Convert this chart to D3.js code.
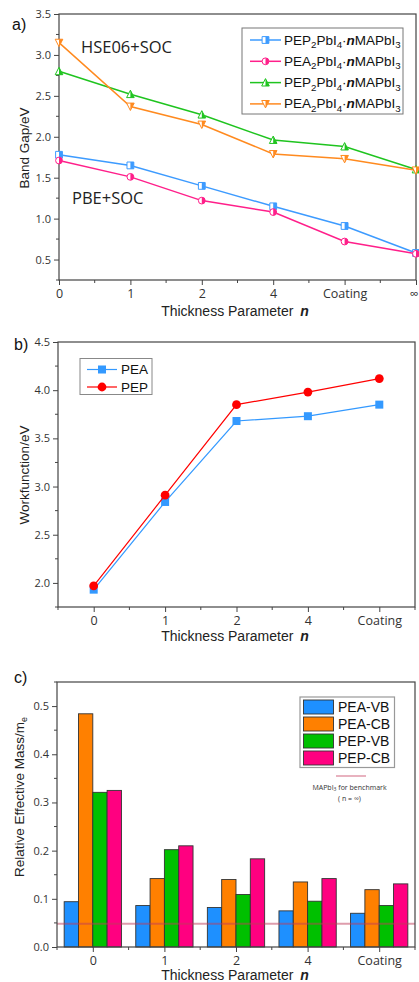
<!DOCTYPE html>
<html>
<head>
<meta charset="utf-8">
<script src="https://cdn.jsdelivr.net/npm/d3@7"></script>
<style>
  html, body { margin: 0; padding: 0; background: #fff; }
  svg { display: block; }
  .tick-label { font-family: "Open Sans", "Liberation Sans", Arial, sans-serif; font-size: 11px; fill: #333; }
  .axis-title { font-family: "Liberation Sans", Arial, sans-serif; font-size: 13.5px; fill: #222; }
  .legend-text { font-family: "Liberation Sans", Arial, sans-serif; fill: #111; }
  .panel-tag { font-family: "Liberation Sans", Arial, sans-serif; font-size: 16px; fill: #111; }
</style>
</head>
<body>
<svg id="fig" width="419" height="982"></svg>
<script>
// ---------- data ----------
// a) band gaps (eV) vs thickness parameter n
const bandCategories = ["0", "1", "2", "4", "Coating", "\u221E"];
const pepPBE = [1.78, 1.65, 1.40, 1.15, 0.91, 0.58];
const peaPBE = [1.71, 1.51, 1.22, 1.08, 0.72, 0.57];
const pepHSE = [2.80, 2.52, 2.27, 1.96, 1.88, 1.60];
const peaHSE = [3.15, 2.37, 2.15, 1.79, 1.73, 1.59];
const bandTicks = [0.5, 1.0, 1.5, 2.0, 2.5, 3.0, 3.5];

// b) work function (eV)
const wfCategories = ["0", "1", "2", "4", "Coating"];
const wfPEA = [1.93, 2.84, 3.68, 3.73, 3.85];
const wfPEP = [1.97, 2.91, 3.85, 3.98, 4.12];
const wfTicks = [2.0, 2.5, 3.0, 3.5, 4.0, 4.5];

// c) relative effective mass (m_e)
const massCategories = ["0", "1", "2", "4", "Coating"];
const massSeries = ["PEA-VB", "PEA-CB", "PEP-VB", "PEP-CB"];
const peaVB = [0.094, 0.086, 0.082, 0.075, 0.070];
const peaCB = [0.484, 0.142, 0.140, 0.135, 0.119];
const pepVB = [0.321, 0.202, 0.109, 0.095, 0.086];
const pepCB = [0.325, 0.210, 0.183, 0.142, 0.131];
const benchmarkMass = 0.048;
const massTicks = [0.0, 0.1, 0.2, 0.3, 0.4, 0.5];

// ---------- helpers ----------
const svg = d3.select("#fig");
const AX = "#444";
const W = 419;

function frame(g, x0, x1, y0, y1) {
  g.append("rect").attr("x", x0).attr("y", y0)
    .attr("width", x1 - x0).attr("height", y1 - y0)
    .attr("fill", "none").attr("stroke", AX).attr("stroke-width", 1.2);
}

function yAxis(g, y, x0, major, minorStep, fmt) {
  const ax = d3.axisLeft(y).tickValues(major).tickSize(5).tickPadding(3).tickFormat(fmt);
  const a = g.append("g").attr("transform", `translate(${x0},0)`).call(ax);
  a.select(".domain").remove();
  a.selectAll("line").attr("stroke", AX);
  a.selectAll("text").attr("class", "tick-label");
  const [lo, hi] = y.domain();
  const minors = d3.range(Math.ceil(lo / minorStep) * minorStep, hi + 1e-9, minorStep)
    .filter(v => !major.some(m => Math.abs(m - v) < 1e-9));
  g.append("g").selectAll("line").data(minors).join("line")
    .attr("x1", x0 - 3).attr("x2", x0).attr("y1", d => y(d)).attr("y2", d => y(d))
    .attr("stroke", AX);
}

function xAxis(g, x, y0, majors, labels, minors) {
  const ax = d3.axisBottom(x).tickValues(majors).tickSize(5).tickPadding(4)
    .tickFormat((d, i) => labels[i]);
  const a = g.append("g").attr("transform", `translate(0,${y0})`).call(ax);
  a.select(".domain").remove();
  a.selectAll("line").attr("stroke", AX);
  a.selectAll("text").attr("class", "tick-label").style("font-size", "12.5px");
  // keep a label that sits on the figure's right edge inside the canvas
  a.selectAll(".tick").each(function () {
    const t = d3.select(this).select("text");
    const bb = this.getBBox();
    const tx = +d3.select(this).attr("transform").match(/translate\(([-\d.]+)/)[1];
    const right = tx + bb.x + bb.width;
    if (right > W - 0.5) t.attr("dx", (W - 0.5 - right) + "px");
  });
  g.append("g").selectAll("line").data(minors).join("line")
    .attr("x1", d => x(d)).attr("x2", d => x(d)).attr("y1", y0).attr("y2", y0 + 3)
    .attr("stroke", AX);
}

function xTitle(g, cx, y) {
  const t = g.append("text").attr("class", "axis-title").attr("x", cx).attr("y", y)
    .attr("text-anchor", "middle").style("font-size", "14px");
  t.append("tspan").text("Thickness Parameter ");
  t.append("tspan").text("n").attr("font-weight", "bold").attr("font-style", "italic").attr("dx", 3);
}

function yTitle(g, x, cy, build) {
  const t = g.append("text").attr("class", "axis-title")
    .attr("transform", `translate(${x},${cy}) rotate(-90)`).attr("text-anchor", "middle");
  build(t);
}

// half-filled markers
function marker(g, shape, cx, cy, color) {
  const s = 3.4;
  const m = g.append("g").attr("transform", `translate(${cx},${cy})`);
  let full, half;
  if (shape === "square") {
    full = `M${-s},${-s}H${s}V${s}H${-s}Z`;
    half = `M0,${-s}H${s}V${s}H0Z`;
  } else if (shape === "circle") {
    full = `M${-s},0A${s},${s} 0 1,0 ${s},0A${s},${s} 0 1,0 ${-s},0Z`;
    half = `M0,${-s}A${s},${s} 0 0,1 0,${s}Z`;
  } else if (shape === "up") {
    full = `M0,${-s - 0.6}L${s + 0.4},${s}H${-s - 0.4}Z`;
    half = `M0,${-s - 0.6}L${s + 0.4},${s}H0Z`;
  } else {
    full = `M0,${s + 0.6}L${s + 0.4},${-s}H${-s - 0.4}Z`;
    half = `M0,${s + 0.6}L${s + 0.4},${-s}H0Z`;
  }
  m.append("path").attr("d", full).attr("fill", "#fff").attr("stroke", color).attr("stroke-width", 1);
  m.append("path").attr("d", half).attr("fill", color);
}

function subLabel(t, parts) {
  // parts: [text, kind] where kind is "n" (normal), "s" (subscript), "b" (bold italic)
  let shifted = false;
  parts.forEach(([txt, kind]) => {
    const sp = t.append("tspan").text(txt);
    if (kind === "s") {
      sp.attr("dy", shifted ? 0 : 3.5).style("font-size", "0.72em");
      shifted = true;
    } else {
      if (shifted) { sp.attr("dy", -3.5); shifted = false; }
      if (kind === "b") sp.attr("font-weight", "bold").attr("font-style", "italic");
    }
  });
}

// ---------- a) band gap ----------
{
  const g = svg.append("g");
  const L = 59, R = 416, T = 14, B = 280;
  const x = d3.scaleLinear().domain([0, 5]).range([L, R]);
  const y = d3.scaleLinear().domain([0.25, 3.5]).range([B, T]);
  const idx = bandCategories.map((_, i) => i);

  yAxis(g, y, L, bandTicks, 0.25, d3.format(".1f"));
  xAxis(g, x, B, idx, bandCategories, d3.range(0.5, 5, 1));
  frame(g, L, R, T, B);

  const series = [
    { v: pepPBE, c: "#3d9bff", m: "square", lbl: ["PEP", "2"] },
    { v: peaPBE, c: "#ff1f8a", m: "circle", lbl: ["PEA", "2"] },
    { v: pepHSE, c: "#1fc41f", m: "up", lbl: ["PEP", "2"] },
    { v: peaHSE, c: "#ff8a1f", m: "down", lbl: ["PEA", "2"] }
  ];
  const line = d3.line().x((d, i) => x(i)).y(d => y(d));
  series.forEach(s => {
    g.append("path").datum(s.v).attr("d", line).attr("fill", "none")
      .attr("stroke", s.c).attr("stroke-width", 1.5);
    s.v.forEach((d, i) => marker(g, s.m, x(i), y(d), s.c));
  });

  g.append("text").attr("x", 81).attr("y", 53).text("HSE06+SOC")
    .style("font-family", "'Open Sans', 'Liberation Sans', sans-serif").style("font-size", "16.5px").attr("fill", "#222");
  g.append("text").attr("x", 72).attr("y", 204).text("PBE+SOC")
    .style("font-family", "'Open Sans', 'Liberation Sans', sans-serif").style("font-size", "16.5px").attr("fill", "#222");

  // legend
  const lg = g.append("g");
  lg.append("rect").attr("x", 242).attr("y", 28).attr("width", 161).attr("height", 86)
    .attr("fill", "#fff").attr("stroke", "#777").attr("stroke-width", 1);
  series.forEach((s, i) => {
    const yy = 40 + i * 21.3;
    lg.append("line").attr("x1", 250).attr("x2", 281).attr("y1", yy).attr("y2", yy)
      .attr("stroke", s.c).attr("stroke-width", 1.5);
    marker(lg, s.m, 265.5, yy, s.c);
    const t = lg.append("text").attr("class", "legend-text").attr("x", 284).attr("y", yy + 4.5)
      .style("font-size", "13.5px");
    subLabel(t, [[s.lbl[0], "n"], [s.lbl[1], "s"], ["PbI", "n"], ["4", "s"], ["\u00B7", "n"],
      ["n", "b"], ["MAPbI", "n"], ["3", "s"]]);
  });

  yTitle(g, 29, 148, t => t.text("Band Gap/eV"));
  xTitle(g, 235, 316);
  g.append("text").attr("class", "panel-tag").attr("x", 12).attr("y", 30).text("a)");
}

// ---------- b) work function ----------
{
  const g = svg.append("g");
  const L = 58, R = 415, T = 342, B = 607;
  const x = d3.scaleLinear().domain([-0.5, 4.5]).range([L, R]);
  const y = d3.scaleLinear().domain([1.75, 4.5]).range([B, T]);
  const idx = wfCategories.map((_, i) => i);

  yAxis(g, y, L, wfTicks, 0.25, d3.format(".1f"));
  xAxis(g, x, B, idx, wfCategories, d3.range(-0.5, 4.6, 1));
  frame(g, L, R, T, B);

  const line = d3.line().x((d, i) => x(i)).y(d => y(d));
  const series = [
    { v: wfPEA, c: "#3399ff", name: "PEA", shape: "sq" },
    { v: wfPEP, c: "#ff0000", name: "PEP", shape: "ci" }
  ];
  function solid(sel, shape, cx, cy, c) {
    if (shape === "sq") sel.append("rect").attr("x", cx - 4).attr("y", cy - 4).attr("width", 8).attr("height", 8).attr("fill", c);
    else sel.append("circle").attr("cx", cx).attr("cy", cy).attr("r", 4.4).attr("fill", c);
  }
  series.forEach(s => {
    g.append("path").datum(s.v).attr("d", line).attr("fill", "none")
      .attr("stroke", s.c).attr("stroke-width", 1.2);
    s.v.forEach((d, i) => solid(g, s.shape, x(i), y(d), s.c));
  });

  const lg = g.append("g");
  lg.append("rect").attr("x", 80).attr("y", 358.5).attr("width", 72).attr("height", 36)
    .attr("fill", "#fff").attr("stroke", "#888").attr("stroke-width", 1);
  series.forEach((s, i) => {
    const yy = 369.5 + i * 17.5;
    lg.append("line").attr("x1", 87).attr("x2", 117).attr("y1", yy).attr("y2", yy)
      .attr("stroke", s.c).attr("stroke-width", 1.2);
    solid(lg, s.shape, 102, yy, s.c);
    lg.append("text").attr("class", "legend-text").attr("x", 121).attr("y", yy + 4.5)
      .style("font-size", "13.5px").text(s.name);
  });

  yTitle(g, 29, 475, t => t.text("Workfunction/eV"));
  xTitle(g, 235, 641);
  g.append("text").attr("class", "panel-tag").attr("x", 14).attr("y", 350).text("b)");
}

// ---------- c) effective mass ----------
{
  const g = svg.append("g");
  const L = 57, R = 415, T = 682, B = 947;
  const x = d3.scaleLinear().domain([-0.5, 4.5]).range([L, R]);
  const y = d3.scaleLinear().domain([0, 0.55]).range([B, T]);
  const idx = massCategories.map((_, i) => i);
  const values = [peaVB, peaCB, pepVB, pepCB];
  const colors = ["#1e90ff", "#ff8000", "#00c000", "#ff0080"];
  const bw = 0.2;

  yAxis(g, y, L, massTicks, 0.05, d3.format(".1f"));

  values.forEach((vals, si) => {
    g.append("g").selectAll("rect").data(vals).join("rect")
      .attr("x", (d, i) => x(i + (si - 2) * bw))
      .attr("width", x(bw) - x(0))
      .attr("y", d => y(d))
      .attr("height", d => y(0) - y(d))
      .attr("fill", colors[si]).attr("stroke", "#333").attr("stroke-width", 0.9);
  });

  // MAPbI3 benchmark
  g.append("line").attr("x1", L).attr("x2", R).attr("y1", y(benchmarkMass)).attr("y2", y(benchmarkMass))
    .attr("stroke", "rgba(190,60,90,0.5)").attr("stroke-width", 2);

  xAxis(g, x, B, idx, massCategories, d3.range(-0.5, 4.6, 1));
  frame(g, L, R, T, B);

  const lg = g.append("g");
  lg.append("rect").attr("x", 300).attr("y", 697).attr("width", 94.5).attr("height", 70.5)
    .attr("fill", "#fff").attr("stroke", "#999").attr("stroke-width", 1.2);
  massSeries.forEach((name, i) => {
    const yy = 700 + i * 17;
    lg.append("rect").attr("x", 303.5).attr("y", yy).attr("width", 30).attr("height", 14)
      .attr("fill", colors[i]).attr("stroke", "#333").attr("stroke-width", 0.9);
    lg.append("text").attr("class", "legend-text").attr("x", 338).attr("y", yy + 12)
      .style("font-size", "14px").text(name);
  });
  lg.append("line").attr("x1", 336).attr("x2", 366).attr("y1", 776).attr("y2", 776)
    .attr("stroke", "rgba(200,70,100,0.55)").attr("stroke-width", 1.5);
  const bt = lg.append("text").attr("x", 349.5).attr("y", 790).attr("text-anchor", "middle")
    .style("font-family", "'Open Sans', sans-serif").style("font-size", "7px").attr("fill", "#333");
  bt.append("tspan").text("MAPbI");
  bt.append("tspan").text("3").style("font-size", "5px").attr("dy", 1);
  bt.append("tspan").text(" for benchmark").attr("dy", -1);
  lg.append("text").attr("x", 349.5).attr("y", 800.5).attr("text-anchor", "middle")
    .style("font-family", "'Open Sans', sans-serif").style("font-size", "7px").attr("fill", "#333")
    .text("( n = \u221E)");

  yTitle(g, 24, 797, t => {
    t.append("tspan").text("Relative Effective Mass/m");
    t.append("tspan").text("e").style("font-size", "9px").attr("dy", 3);
  });
  xTitle(g, 235, 980);
  g.append("text").attr("class", "panel-tag").attr("x", 14).attr("y", 683).text("c)");
}
</script>
</body>
</html>
